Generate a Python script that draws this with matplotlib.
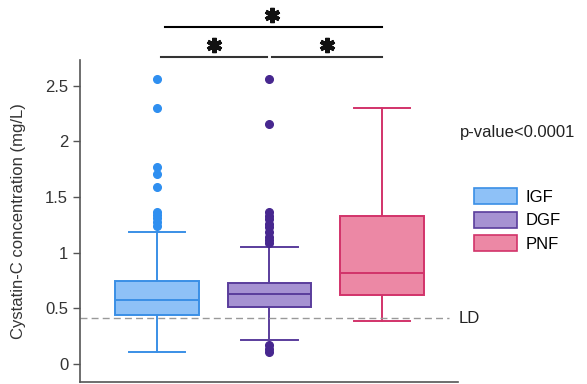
import numpy as np
import matplotlib
matplotlib.use('Agg')
import matplotlib.pyplot as plt
from matplotlib.patches import Patch

plt.rcParams['font.family'] = ['Liberation Sans', 'DejaVu Sans']

groups = ['IGF', 'DGF', 'PNF']
q1 = [0.443, 0.51, 0.617]
med = [0.58, 0.63, 0.82]
q3 = [0.75, 0.725, 1.33]
whislo = [0.108, 0.216, 0.39]
whishi = [1.19, 1.05, 2.30]
fliers = [
    [2.56, 2.30, 1.77, 1.71, 1.59, 1.37, 1.34, 1.31, 1.28, 1.24],
    [2.56, 2.16, 1.37, 1.33, 1.30, 1.26, 1.23, 1.19, 1.14, 1.11, 1.09, 0.168, 0.14, 0.108],
    [],
]
fill_colors = ['#8ec1f7', '#a692d2', '#ec88a5']
edge_colors = ['#3a8fe6', '#5a3d9c', '#d2336a']
flier_colors = ['#2f8ff0', '#47278f', '#d2336a']
ld_value = 0.41

fig = plt.figure(figsize=(5.87, 3.84), dpi=100)
ax = fig.add_axes([80/587, 1 - 382/384, 378/587, 322/384])

stats = []
for i, g in enumerate(groups):
    stats.append(dict(label=g, med=med[i], q1=q1[i], q3=q3[i],
                      whislo=whislo[i], whishi=whishi[i], fliers=fliers[i]))

for i, s in enumerate(stats):
    ec = edge_colors[i]
    ax.bxp([s], positions=[i], widths=0.74, capwidths=0.5, patch_artist=True,
           boxprops=dict(facecolor=fill_colors[i], edgecolor=ec, linewidth=1.4),
           medianprops=dict(color=ec, linewidth=1.4),
           whiskerprops=dict(color=ec, linewidth=1.4),
           capprops=dict(color=ec, linewidth=1.4),
           flierprops=dict(marker='o', markerfacecolor=flier_colors[i],
                           markeredgecolor=flier_colors[i], markersize=5.5))

ax.set_xlim(-0.684, 2.676)
ax.set_ylim(-0.16, 2.73)
ax.set_yticks([0, 0.5, 1, 1.5, 2, 2.5])
ax.set_yticklabels(['0', '0.5', '1', '1.5', '2', '2.5'])
ax.set_xticks([])
ax.tick_params(axis='y', labelsize=12, length=5, width=1, color='#555555', labelcolor='#333333')
for side in ['top', 'right']:
    ax.spines[side].set_visible(False)
for side in ['left', 'bottom']:
    ax.spines[side].set_color('#555555')
    ax.spines[side].set_linewidth(1.2)
ax.set_ylabel('Cystatin-C concentration (mg/L)', fontsize=12, color='#333333', labelpad=14)

# detection limit
ax.hlines(ld_value, -0.684, 2.60, colors='#999999', linestyles=(0, (5, 3)), linewidth=1)
ax.text(2.68, ld_value, 'LD', fontsize=12, va='center', ha='left', color='#222222')

# significance bars
ax.plot([0.07, 2.0], [3.03, 3.03], color='black', lw=1.5, clip_on=False)
ax.plot([0.04, 0.98], [2.76, 2.76], color='#333333', lw=1.5, clip_on=False)
ax.plot([1.02, 2.0], [2.76, 2.76], color='#333333', lw=1.5, clip_on=False)
ax.plot([1.02, 0.51, 1.51], [3.136, 2.866, 2.866], linestyle='none', marker=(6, 2, 0),
        markersize=11, markeredgewidth=3, color='#111111', clip_on=False)

fig.text(460/587, 1 - 132/384, 'p-value<0.0001', fontsize=12, va='center', ha='left', color='#222222')

handles = [Patch(facecolor=fill_colors[i], edgecolor=edge_colors[i], linewidth=1.2) for i in range(3)]
fig.legend(handles, groups, loc='upper left', bbox_to_anchor=(474/587, 1 - 188/384),
           frameon=False, fontsize=12, borderpad=0, handlelength=2.6, handleheight=1.1,
           handletextpad=0.5, labelspacing=0.42, borderaxespad=0)

fig.savefig('out.png', dpi=100)
